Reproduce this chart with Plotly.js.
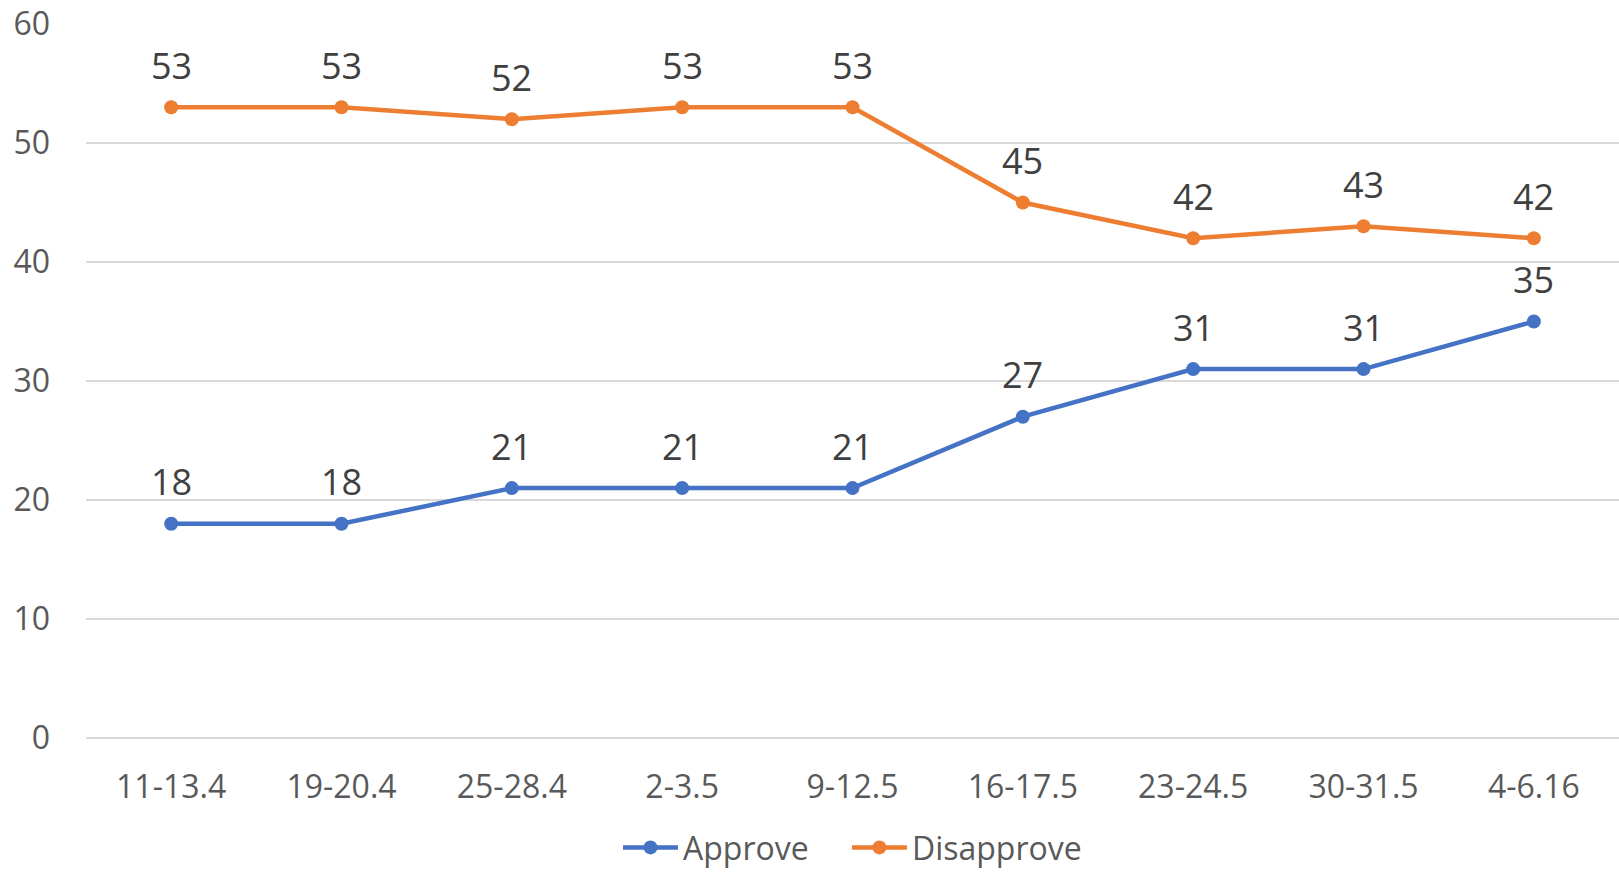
<!DOCTYPE html>
<html>
<head>
<meta charset="utf-8">
<script src="https://cdn.plot.ly/plotly-3.0.1.min.js"></script>
<style>
html, body { margin: 0; padding: 0; background: #fff; }
#chart { width: 1619px; height: 872px; }
</style>
</head>
<body>
<div id="chart"></div>
<script>
const categories = ["11-13.4", "19-20.4", "25-28.4", "2-3.5", "9-12.5", "16-17.5", "23-24.5", "30-31.5", "4-6.16"];
const approve = [18, 18, 21, 21, 21, 27, 31, 31, 35];
const disapprove = [53, 53, 52, 53, 53, 45, 42, 43, 42];
const seriesNames = ["Approve", "Disapprove"];

const FONT = "'Open Sans', 'Noto Sans', sans-serif";
const GAP = "\u00a0\u00a0\u00a0\u00a0";

function trace(name, values, color) {
  return {
    type: "scatter",
    mode: "lines+markers",
    name: name,
    x: categories,
    y: values,
    line: { color: color, width: 4.5 },
    marker: { color: color, size: 14 },
    cliponaxis: false,
    hovertemplate: "%{x}: %{y}<extra>" + name.trim() + "</extra>"
  };
}

const data = [
  trace(seriesNames[0] + GAP, approve, "#4472C4"),
  trace(seriesNames[1], disapprove, "#ED7D31")
];

function labels(values) {
  return values.map((v, i) => ({
    x: categories[i],
    y: v,
    xref: "x",
    yref: "y",
    text: String(v),
    showarrow: false,
    yshift: 42,
    font: { family: FONT, size: 36, color: "#404040" }
  }));
}

const layout = {
  width: 1619,
  height: 872,
  margin: { l: 86, r: 0, t: 24, b: 134, autoexpand: false },
  paper_bgcolor: "#ffffff",
  plot_bgcolor: "#ffffff",
  font: { family: FONT, color: "#595959", size: 32 },
  xaxis: {
    type: "category",
    range: [-0.5, 8.5],
    showgrid: false,
    showline: false,
    zeroline: false,
    ticks: "",
    automargin: false,
    ticklabelstandoff: 27,
    tickfont: { family: FONT, size: 32, color: "#595959" }
  },
  yaxis: {
    range: [0, 60],
    dtick: 10,
    showgrid: true,
    gridcolor: "#D9D9D9",
    gridwidth: 1.5,
    zeroline: true,
    zerolinecolor: "#D9D9D9",
    zerolinewidth: 1.5,
    showline: false,
    ticks: "",
    automargin: false,
    ticklabelstandoff: 35,
    tickfont: { family: FONT, size: 32, color: "#595959" }
  },
  annotations: labels(approve).concat(labels(disapprove)),
  showlegend: true,
  legend: {
    orientation: "h",
    x: 0.5,
    xanchor: "center",
    yref: "container",
    y: 0.028,
    yanchor: "middle",
    itemwidth: 55,
    font: { family: FONT, size: 32, color: "#595959" },
    itemclick: false
  }
};

Plotly.newPlot("chart", data, layout, { displayModeBar: false });
</script>
</body>
</html>
